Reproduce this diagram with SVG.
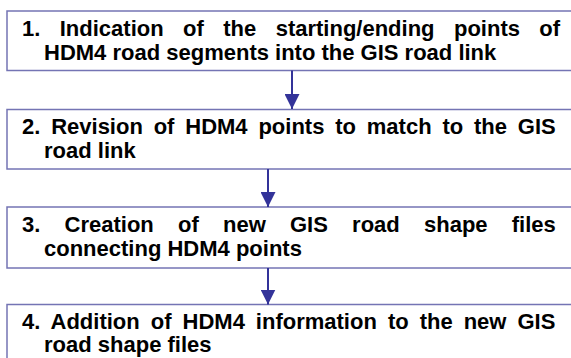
<svg xmlns="http://www.w3.org/2000/svg" width="571" height="358" viewBox="0 0 571 358">
<style>
.box{fill:#ffffff;stroke:#7474b4;stroke-width:1.5}
.t{font-family:"Liberation Sans",Arial,sans-serif;font-weight:bold;font-size:22px;fill:#000000}
.arr{stroke:#333399;stroke-width:2;fill:none}
.head{fill:#333399}
</style>
<defs>
<marker id="ah" viewBox="0 0 10 10" refX="10" refY="5" markerWidth="7.5" markerHeight="7.5" markerUnits="strokeWidth" orient="auto">
<path class="head" d="M0,0 L10,5 L0,10 Z"/>
</marker>
</defs>
<rect width="571" height="358" fill="#ffffff"/>
<g id="node1">
<rect class="box" x="7" y="11" width="580" height="59.5"/>
<text class="t" x="22" y="35.5" word-spacing="13.3">1. Indication of the starting/ending points of</text>
<text class="t" x="44" y="59.5">HDM4 road segments into the GIS road link</text>
</g>
<g id="node2">
<rect class="box" x="7" y="109.5" width="580" height="59.5"/>
<text class="t" x="22" y="134" word-spacing="4.7">2. Revision of HDM4 points to match to the GIS</text>
<text class="t" x="44" y="158">road link</text>
</g>
<g id="node3">
<rect class="box" x="7" y="207" width="580" height="61"/>
<text class="t" x="22" y="232" word-spacing="18.1">3. Creation of new GIS road shape files</text>
<text class="t" x="44" y="256">connecting HDM4 points</text>
</g>
<g id="node4">
<rect class="box" x="7" y="304.5" width="580" height="70"/>
<text class="t" x="22" y="328.5" word-spacing="4.9">4. Addition of HDM4 information to the new GIS</text>
<text class="t" x="44" y="352">road shape files</text>
</g>
<g id="connectors">
<line class="arr" x1="292" y1="70.5" x2="292" y2="109" marker-end="url(#ah)"/>
<line class="arr" x1="268" y1="169" x2="268" y2="207" marker-end="url(#ah)"/>
<line class="arr" x1="268" y1="268" x2="268" y2="304.5" marker-end="url(#ah)"/>
</g>
</svg>
